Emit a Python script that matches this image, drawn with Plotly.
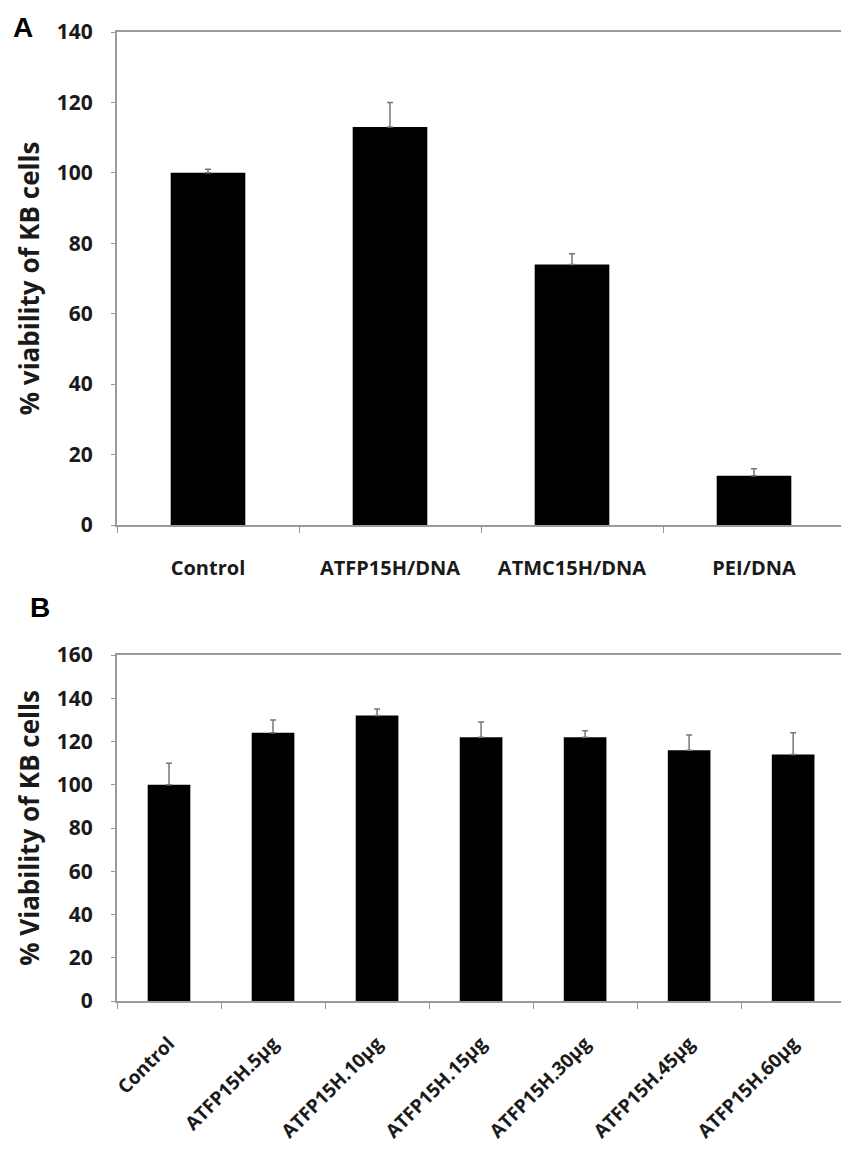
import plotly.graph_objects as go

# Panel A data
cats_a = ["Control", "ATFP15H/DNA", "ATMC15H/DNA", "PEI/DNA"]
vals_a = [100, 113, 74, 14]
errs_a = [1, 7, 3, 2]

# Panel B data
cats_b = ["Control", "ATFP15H.5µg", "ATFP15H.10µg", "ATFP15H.15µg",
          "ATFP15H.30µg", "ATFP15H.45µg", "ATFP15H.60µg"]
vals_b = [100, 124, 132, 122, 122, 116, 114]
errs_b = [10, 6, 3, 7, 3, 7, 10]

yticks_a = [0, 20, 40, 60, 80, 100, 120, 140]
yticks_b = [0, 20, 40, 60, 80, 100, 120, 140, 160]

FONT = "Open Sans"
AXC = "#9a9a9a"
TXT = "#1a1a1a"

fig = go.Figure()
fig.add_trace(go.Bar(
    x=cats_a, y=vals_a, width=0.41, marker=dict(color="black", line=dict(width=0)),
    error_y=dict(type="data", array=errs_a, arrayminus=[0]*len(errs_a), symmetric=False,
                 color="#777777", thickness=1.5, width=3),
    xaxis="x", yaxis="y", showlegend=False))
fig.add_trace(go.Bar(
    x=cats_b, y=vals_b, width=0.41, marker=dict(color="black", line=dict(width=0)),
    error_y=dict(type="data", array=errs_b, arrayminus=[0]*len(errs_b), symmetric=False,
                 color="#777777", thickness=1.5, width=3),
    xaxis="x2", yaxis="y2", showlegend=False))

H = 1153.0
W = 841.0
xdom = [117 / W, 1.0]

common_x = dict(type="category", showline=True, mirror=True, linecolor=AXC, linewidth=2,
                ticks="outside", tickson="boundaries", ticklen=6, tickcolor=AXC, tickwidth=1,
                showgrid=False, zeroline=False, automargin=False)
common_y = dict(showline=True, linecolor=AXC, linewidth=2, ticks="outside", ticklen=4,
                tickcolor=AXC, tickwidth=1, showgrid=False, zeroline=False, automargin=False,
                tickfont=dict(family=FONT, size=21, color=TXT, weight="bold"),
                ticklabelstandoff=14)

fig.update_layout(
    width=841, height=1153, margin=dict(l=0, r=0, t=0, b=0, autoexpand=False),
    paper_bgcolor="white", plot_bgcolor="white", bargap=0.6,
    xaxis=dict(domain=xdom, anchor="y", range=[-0.5, 3.478],
               tickfont=dict(family=FONT, size=20, color=TXT, weight="bold"),
               ticklabelstandoff=24, **common_x),
    yaxis=dict(domain=[1 - 525 / H, 1 - 32 / H], anchor="x", range=[0, 140],
               tickvals=yticks_a,
               title=dict(text="% viability of KB cells", standoff=10,
                          font=dict(family=FONT, size=26, color=TXT, weight="bold")),
               **common_y),
    xaxis2=dict(domain=xdom, anchor="y2", range=[-0.5, 6.46], tickangle=-45,
                tickfont=dict(family=FONT, size=19, color=TXT, weight="bold"),
                ticklabelstandoff=22, **common_x),
    yaxis2=dict(domain=[1 - 1001 / H, 1 - 655 / H], anchor="x2", range=[0, 160],
                tickvals=yticks_b,
                title=dict(text="% Viability of KB cells", standoff=10,
                           font=dict(family=FONT, size=26, color=TXT, weight="bold")),
                **common_y),
    annotations=[
        dict(text="A", x=23 / W, y=1 - 27 / H, xref="paper", yref="paper",
             showarrow=False, xanchor="center", yanchor="middle",
             font=dict(family="Liberation Sans", size=28, color="black", weight="bold")),
        dict(text="B", x=40 / W, y=1 - 607 / H, xref="paper", yref="paper",
             showarrow=False, xanchor="center", yanchor="middle",
             font=dict(family="Liberation Sans", size=28, color="black", weight="bold")),
    ],
)

fig.write_html("out.html")
